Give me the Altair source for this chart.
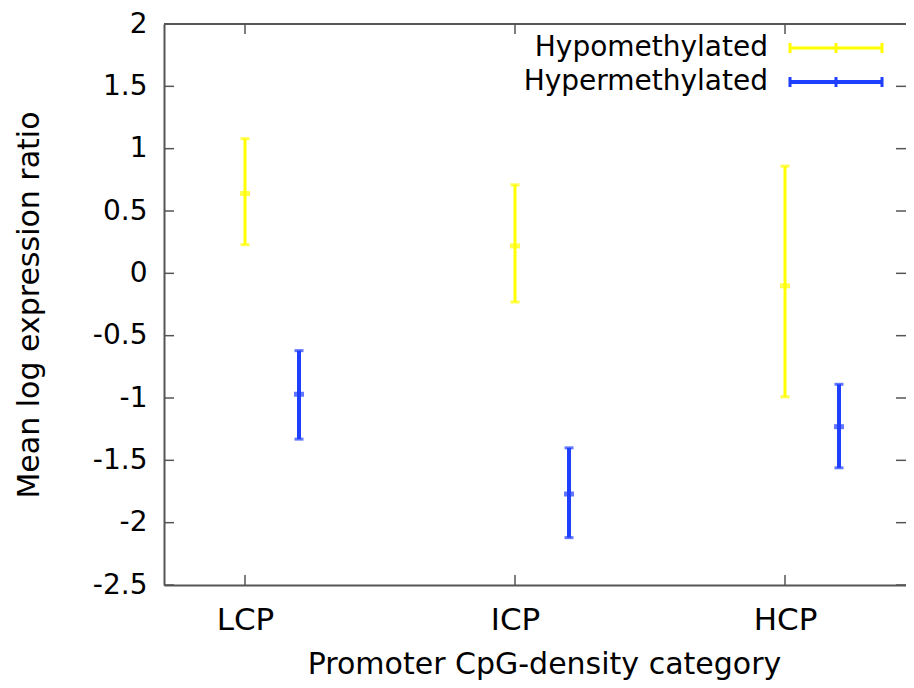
import altair as alt
import pandas as pd

# ---- data ----
categories = ["LCP", "ICP", "HCP"]
series = ["Hypomethylated", "Hypermethylated"]
colors = ["#ffff00", "#1f3fff"]

hypo_mean = [0.64, 0.22, -0.10]
hypo_low = [0.23, -0.23, -0.99]
hypo_high = [1.08, 0.71, 0.86]

hyper_mean = [-0.97, -1.77, -1.23]
hyper_low = [-1.33, -2.12, -1.56]
hyper_high = [-0.62, -1.40, -0.89]

y_ticks = [2, 1.5, 1, 0.5, 0, -0.5, -1, -1.5, -2, -2.5]
x_offsets = [0.0, 0.2]  # group offset of each series (in category units)

W, H = 742, 561
XDOM = [0.7, 0.7 + W / 270.0]
YDOM = [-2.5, 2]
FONT = "DejaVu Sans"
FRAME = "#555555"

rows = []
for s_i, (s, m, lo, hi) in enumerate(zip(series, [hypo_mean, hyper_mean], [hypo_low, hyper_low], [hypo_high, hyper_high])):
    for c_i, c in enumerate(categories):
        rows.append({"series": s, "category": c, "x": c_i + 1 + x_offsets[s_i],
                     "mean": m[c_i], "low": lo[c_i], "high": hi[c_i]})
df = pd.DataFrame(rows)

xs = alt.Scale(domain=XDOM, nice=False, zero=False)
ys = alt.Scale(domain=YDOM, nice=False, zero=False)
cs = alt.Scale(domain=series, range=colors)
ws = alt.Scale(domain=series, range=[3, 4])

label_expr = "[" + ",".join("'%s'" % c for c in categories) + "][datum.value - 1]"

x_axis = alt.Axis(values=[1, 2, 3], labelExpr=label_expr, ticks=False, tickSize=0, grid=False,
                  domain=True, domainColor=FRAME, domainWidth=2,
                  labelFont=FONT, labelFontSize=31, labelColor="black", labelPadding=44,
                  labelBaseline="alphabetic",
                  title="Promoter CpG-density category", titleFont=FONT, titleFontSize=30,
                  titleFontWeight="normal", titleColor="black", titleX=380, titleY=88,
                  titleBaseline="alphabetic", titleAlign="center", titleAnchor="start")
y_axis = alt.Axis(values=y_ticks, labelExpr="toString(datum.value)", ticks=False, tickSize=0, grid=False,
                  domain=True, domainColor=FRAME, domainWidth=2,
                  labelFont=FONT, labelFontSize=28, labelColor="black", labelPadding=17,
                  title="Mean log expression ratio", titleFont=FONT, titleFontSize=30,
                  titleFontWeight="normal", titleColor="black", titleAngle=-90,
                  titleX=-126, titleY=H / 2, titleBaseline="alphabetic", titleAlign="center",
                  titleAnchor="start")

base = alt.Chart(df)
col_enc = alt.Color("series:N", scale=cs, legend=None)

bars = base.mark_rule().encode(
    x=alt.X("x:Q", scale=xs, axis=x_axis),
    y=alt.Y("low:Q", scale=ys, axis=y_axis),
    y2="high:Q",
    color=col_enc,
    strokeWidth=alt.StrokeWidth("series:N", scale=ws, legend=None),
)
cap_lo = base.mark_tick(orient="horizontal", size=9, thickness=3).encode(
    x=alt.X("x:Q", scale=xs), y=alt.Y("low:Q", scale=ys), color=col_enc)
cap_hi = base.mark_tick(orient="horizontal", size=9, thickness=3).encode(
    x=alt.X("x:Q", scale=xs), y=alt.Y("high:Q", scale=ys), color=col_enc)
mid = base.mark_tick(orient="horizontal", size=10, thickness=5).encode(
    x=alt.X("x:Q", scale=xs), y=alt.Y("mean:Q", scale=ys), color=col_enc)

# frame: top border + inward ticks (left/right for y, top/bottom for x)
tick_df = pd.DataFrame({"v": y_ticks})
xt_df = pd.DataFrame({"v": [1, 2, 3]})
top_border = alt.Chart(xt_df).mark_rule(color=FRAME, strokeWidth=2).encode(
    x=alt.value(0), x2=alt.value(W), y=alt.value(0))
lt = alt.Chart(tick_df).mark_rule(color=FRAME, strokeWidth=1.5).encode(
    y=alt.Y("v:Q", scale=ys), x=alt.value(0), x2=alt.value(10))
rt = alt.Chart(tick_df).mark_rule(color=FRAME, strokeWidth=1.5).encode(
    y=alt.Y("v:Q", scale=ys), x=alt.value(W - 10), x2=alt.value(W))
bt = alt.Chart(xt_df).mark_rule(color=FRAME, strokeWidth=1.5).encode(
    x=alt.X("v:Q", scale=xs), y=alt.value(H - 10), y2=alt.value(H))
tt = alt.Chart(xt_df).mark_rule(color=FRAME, strokeWidth=1.5).encode(
    x=alt.X("v:Q", scale=xs), y=alt.value(0), y2=alt.value(10))

# gnuplot-style key
legend_layers = []
row_y = [24, 58]
for s, col, ry, sw in zip(series, colors, row_y, [3, 4]):
    ldf = pd.DataFrame({"series": [s]})
    legend_layers.append(alt.Chart(ldf).mark_text(align="right", baseline="middle", font=FONT,
                                                  fontSize=28, color="black").encode(
        text="series:N", x=alt.value(604), y=alt.value(ry)))
    legend_layers.append(alt.Chart(ldf).mark_rule(color=col, strokeWidth=sw).encode(
        x=alt.value(626), x2=alt.value(718), y=alt.value(ry)))
    for px in [626, 672, 718]:
        legend_layers.append(alt.Chart(ldf).mark_rule(color=col, strokeWidth=3).encode(
            x=alt.value(px), y=alt.value(ry - 5), y2=alt.value(ry + 5)))

chart = alt.layer(bars, cap_lo, cap_hi, mid, top_border, lt, rt, bt, tt, *legend_layers).properties(
    width=W, height=H,
    autosize=alt.AutoSizeParams(type="none"),
    padding={"left": 156, "top": 16, "right": 0, "bottom": 95},
    background="white",
).configure_view(stroke=None)

chart.save("out.html", embed_options={"renderer": "svg", "actions": False})
